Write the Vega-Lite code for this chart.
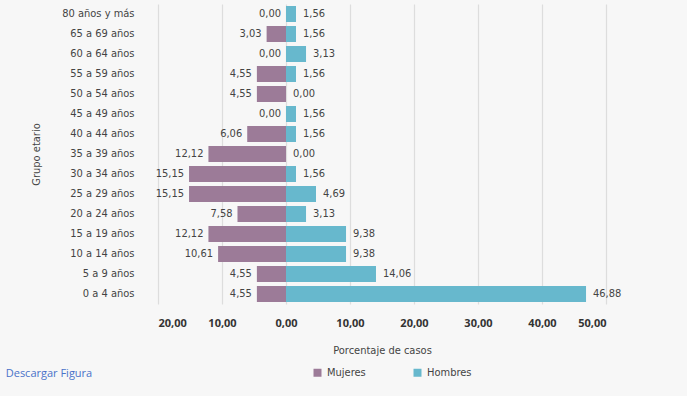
{
  "$schema": "https://vega.github.io/schema/vega-lite/v6.json",
  "width": 448,
  "height": 300,
  "autosize": {"type": "none"},
  "padding": {"left": 158, "top": 4, "right": 81, "bottom": 92},
  "background": "#f7f7f7",
  "config": {
    "view": {"stroke": null},
    "locale": {"number": {"decimal": ",", "thousands": ".", "grouping": [3], "currency": ["", " €"]}},
    "font": "Liberation Sans Narrow, DejaVu Sans Condensed, Roboto, sans-serif"
  },
  "title": {
    "text": "Descargar Figura",
    "orient": "bottom",
    "anchor": "start",
    "frame": "bounds",
    "fontSize": 11,
    "fontWeight": "normal",
    "color": "#4a72c9",
    "font": "Open Sans, sans-serif",
    "dx": -25,
    "dy": -14
  },
  "data": {
    "values": [
      {"grupo": "80 años y más", "sexo": "Mujeres", "porcentaje": 0.00},
      {"grupo": "80 años y más", "sexo": "Hombres", "porcentaje": 1.56},
      {"grupo": "65 a 69 años", "sexo": "Mujeres", "porcentaje": 3.03},
      {"grupo": "65 a 69 años", "sexo": "Hombres", "porcentaje": 1.56},
      {"grupo": "60 a 64 años", "sexo": "Mujeres", "porcentaje": 0.00},
      {"grupo": "60 a 64 años", "sexo": "Hombres", "porcentaje": 3.13},
      {"grupo": "55 a 59 años", "sexo": "Mujeres", "porcentaje": 4.55},
      {"grupo": "55 a 59 años", "sexo": "Hombres", "porcentaje": 1.56},
      {"grupo": "50 a 54 años", "sexo": "Mujeres", "porcentaje": 4.55},
      {"grupo": "50 a 54 años", "sexo": "Hombres", "porcentaje": 0.00},
      {"grupo": "45 a 49 años", "sexo": "Mujeres", "porcentaje": 0.00},
      {"grupo": "45 a 49 años", "sexo": "Hombres", "porcentaje": 1.56},
      {"grupo": "40 a 44 años", "sexo": "Mujeres", "porcentaje": 6.06},
      {"grupo": "40 a 44 años", "sexo": "Hombres", "porcentaje": 1.56},
      {"grupo": "35 a 39 años", "sexo": "Mujeres", "porcentaje": 12.12},
      {"grupo": "35 a 39 años", "sexo": "Hombres", "porcentaje": 0.00},
      {"grupo": "30 a 34 años", "sexo": "Mujeres", "porcentaje": 15.15},
      {"grupo": "30 a 34 años", "sexo": "Hombres", "porcentaje": 1.56},
      {"grupo": "25 a 29 años", "sexo": "Mujeres", "porcentaje": 15.15},
      {"grupo": "25 a 29 años", "sexo": "Hombres", "porcentaje": 4.69},
      {"grupo": "20 a 24 años", "sexo": "Mujeres", "porcentaje": 7.58},
      {"grupo": "20 a 24 años", "sexo": "Hombres", "porcentaje": 3.13},
      {"grupo": "15 a 19 años", "sexo": "Mujeres", "porcentaje": 12.12},
      {"grupo": "15 a 19 años", "sexo": "Hombres", "porcentaje": 9.38},
      {"grupo": "10 a 14 años", "sexo": "Mujeres", "porcentaje": 10.61},
      {"grupo": "10 a 14 años", "sexo": "Hombres", "porcentaje": 9.38},
      {"grupo": "5 a 9 años", "sexo": "Mujeres", "porcentaje": 4.55},
      {"grupo": "5 a 9 años", "sexo": "Hombres", "porcentaje": 14.06},
      {"grupo": "0 a 4 años", "sexo": "Mujeres", "porcentaje": 4.55},
      {"grupo": "0 a 4 años", "sexo": "Hombres", "porcentaje": 46.88}
    ]
  },
  "transform": [
    {"calculate": "datum.sexo === 'Mujeres' ? -datum.porcentaje : datum.porcentaje", "as": "valor"}
  ],
  "encoding": {
    "y": {
      "field": "grupo",
      "type": "nominal",
      "sort": ["80 años y más", "65 a 69 años", "60 a 64 años", "55 a 59 años", "50 a 54 años", "45 a 49 años", "40 a 44 años", "35 a 39 años", "30 a 34 años", "25 a 29 años", "20 a 24 años", "15 a 19 años", "10 a 14 años", "5 a 9 años", "0 a 4 años"],
      "scale": {"paddingInner": 0.2, "paddingOuter": 0.1},
      "axis": {
        "title": "Grupo etario",
        "titleFontSize": 11,
        "titleFontWeight": "normal",
        "titleColor": "#444444",
        "titlePadding": 20,
        "labelFontSize": 11,
        "labelColor": "#444444",
        "labelPadding": 24,
        "ticks": false,
        "domain": false,
        "grid": false
      }
    },
    "x": {
      "field": "valor",
      "type": "quantitative",
      "scale": {"domain": [-20, 50], "nice": false},
      "axis": {
        "title": "Porcentaje  de casos",
        "titleFontSize": 11,
        "titleFontWeight": "normal",
        "titleColor": "#444444",
        "titlePadding": 16,
        "values": [-20, -10, 0, 10, 20, 30, 40, 50],
        "labelExpr": "replace(format(abs(datum.value), '.2f'), '.', ',')",
        "labelFontSize": 11,
        "labelFontWeight": "bold",
        "labelColor": "#333333",
        "labelFont": "Open Sans, sans-serif",
        "labelPadding": 13,
        "ticks": false,
        "domain": false,
        "grid": true,
        "gridColor": "#dddddd",
        "gridWidth": 1.2
      }
    }
  },
  "layer": [
    {
      "mark": {"type": "bar"},
      "encoding": {
        "color": {
          "field": "sexo",
          "type": "nominal",
          "scale": {"domain": ["Mujeres", "Hombres"], "range": ["#9c7b98", "#67b8cd"]},
          "legend": {
            "title": null,
            "orient": "none",
            "legendX": 154,
            "legendY": 363,
            "direction": "horizontal",
            "symbolType": "square",
            "symbolSize": 64,
            "labelFontSize": 11,
            "labelColor": "#444444",
            "columnPadding": 46
          }
        }
      }
    },
    {
      "transform": [{"filter": "datum.sexo === 'Mujeres'"}],
      "mark": {"type": "text", "align": "right", "baseline": "middle", "dx": -5, "fontSize": 11, "color": "#444444"},
      "encoding": {"text": {"field": "porcentaje", "type": "quantitative", "format": ".2f"}}
    },
    {
      "transform": [{"filter": "datum.sexo === 'Hombres'"}],
      "mark": {"type": "text", "align": "left", "baseline": "middle", "dx": 7, "fontSize": 11, "color": "#444444"},
      "encoding": {"text": {"field": "porcentaje", "type": "quantitative", "format": ".2f"}}
    }
  ]
}
